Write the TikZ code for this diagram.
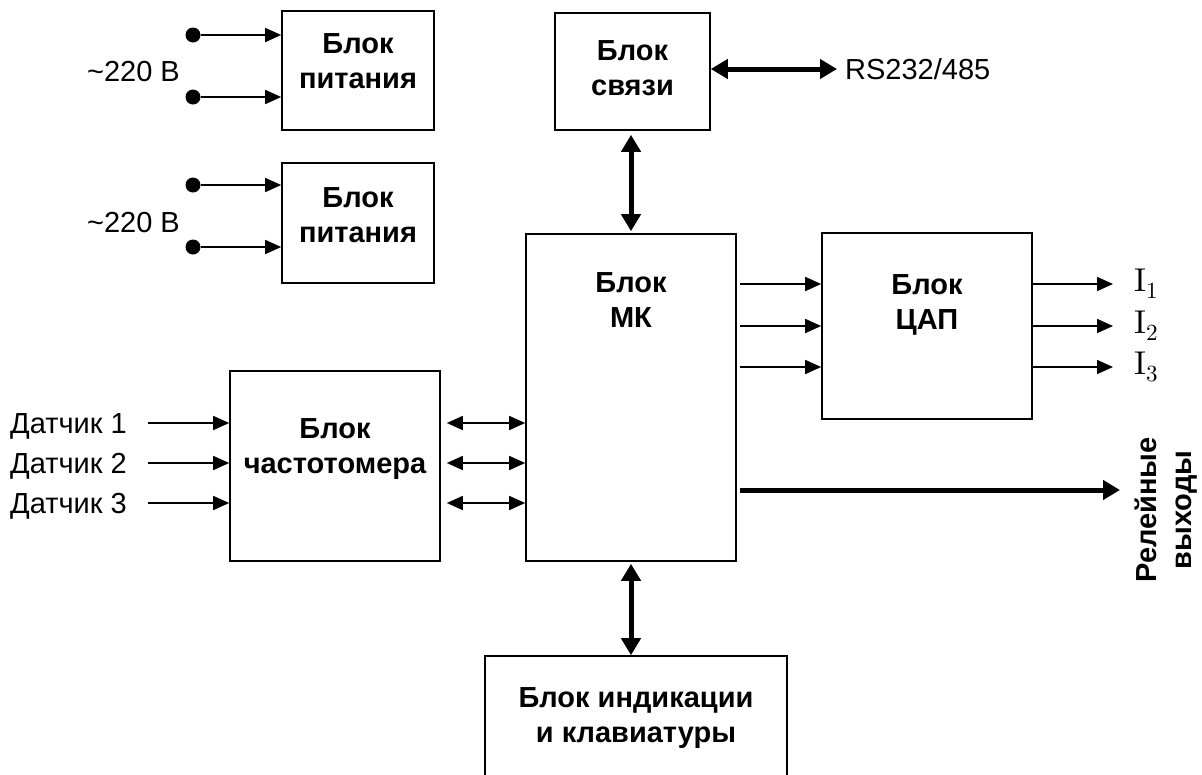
\documentclass[tikz,border=0pt]{standalone}
\usepackage{fontspec}
\setmainfont{Liberation Sans}
\newfontfamily\lmfont{lmroman10-regular.otf}
\usetikzlibrary{arrows.meta,positioning}

\tikzset{
  blk/.style={draw,line width=1.6pt,inner sep=0pt},
  blktxt/.style={font=\fontsize{29}{35}\selectfont\bfseries,align=center,anchor=north,inner sep=0pt},
  lbl/.style={font=\fontsize{29}{34}\selectfont,inner sep=0pt},
  arr/.style={line width=1.6pt,-{Triangle[length=16pt,width=14pt]}},
  darr/.style={line width=1.6pt,{Triangle[length=16pt,width=14pt]}-{Triangle[length=16pt,width=14pt]}},
  bus/.style={line width=5pt,{Triangle[length=17pt,width=19pt]}-{Triangle[length=17pt,width=19pt]}},
  bigarr/.style={line width=5pt,-{Triangle[length=17pt,width=19pt]}},
  dot/.style={circle,fill,inner sep=0pt,minimum size=15pt}
}

\begin{document}
\begin{tikzpicture}[x=1pt,y=-1pt]
    \useasboundingbox (0,0) rectangle (1202,774);

    % blocks
    \node[blk,minimum width=152,minimum height=119] (pw1) at (358,70.5) {};
    \node[blk,minimum width=152,minimum height=120] (pw2) at (358,223) {};
    \node[blk,minimum width=155,minimum height=117] (link) at (632.5,71.5) {};
    \node[blk,minimum width=210,minimum height=327] (mk) at (631,397.5) {};
    \node[blk,minimum width=210,minimum height=186] (dac) at (927,326) {};
    \node[blk,minimum width=210,minimum height=190] (freq) at (335,466) {};
    \node[blk,minimum width=302,minimum height=164] (ind) at (636,738) {};

    \node[blktxt] (pw1t) at (358,33) {Блок\\питания};
    \node[blktxt] (pw2t) at (358,187) {Блок\\питания};
    \node[blktxt] (linkt) at (632.5,40) {Блок\\связи};
    \node[blktxt] (mkt) at (631,272) {Блок\\МК};
    \node[blktxt] (dact) at (927,274) {Блок\\ЦАП};
    \node[blktxt] (freqt) at (335,418) {Блок\\частотомера};
    \node[blktxt] (indt) at (636,687) {Блок индикации\\и клавиатуры};

    % mains inputs
    \node[lbl,anchor=base east] (v1) at (180,81) {\textasciitilde220 В};
    \node[lbl,anchor=base east] (v2) at (180,232) {\textasciitilde220 В};
    \foreach \n/\y/\b in {a/35/pw1,b/97/pw1,c/185/pw2,d/247/pw2}{
      \node[dot] (dot\n) at (193,\y) {};
      \draw[arr] (dot\n) -- (\b.west |- dot\n);
    }

    % sensors
    \foreach \i/\y in {1/423,2/463,3/503}{
      \node[lbl,anchor=base west] (sen\i) at (10,\y+10) {Датчик \i};
      \coordinate (in\i) at (148,\y);
      \draw[arr] (in\i) -- (freq.west |- in\i);
      \draw[darr,shorten <=6pt] (freq.east |- in\i) -- (mk.west |- in\i);
    }

    % DAC
    \foreach \i/\y in {1/284,2/326,3/367}{
      \coordinate (o\i) at (1113,\y);
      \draw[arr,shorten <=3pt] (mk.east |- o\i) -- (dac.west |- o\i);
      \draw[arr] (dac.east |- o\i) -- (o\i);
      \node[lbl,right=21pt of o\i,font=\fontsize{33}{36}\lmfont] (cur\i) {I\textsubscript{\i}};
    }

    % link and buses
    \node[lbl,anchor=west] (rs) at (845,69) {RS232/485};
    \draw[bus] (link.east |- rs.west) -- ([xshift=-8pt]rs.west);
    \draw[bus,shorten <=4pt,shorten >=2pt] (mk.north |- link.south) -- (mk.north);
    \draw[bus,shorten <=2pt] (mk.south) -- (mk.south |- ind.north);

    % relays
    \coordinate (rel) at (1120,490);
    \draw[bigarr,shorten <=3pt] (mk.east |- rel) -- (rel);
    \node[blktxt,anchor=center,rotate=90] (relt) at (1166,510) {Релейные\\выходы};
\end{tikzpicture}
\end{document}
